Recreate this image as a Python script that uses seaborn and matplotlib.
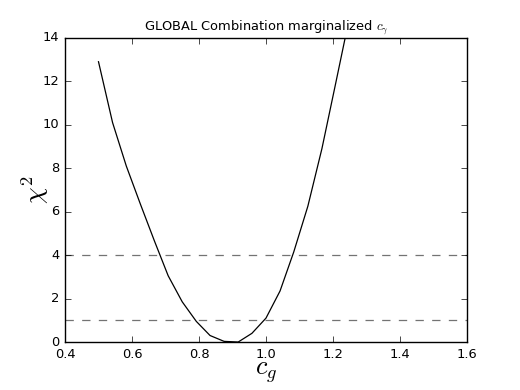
import seaborn as sns
import matplotlib.pyplot as plt
import pandas as pd

# marginalized chi2 scan in c_g
c_g = [0.500, 0.542, 0.583, 0.625, 0.667, 0.708, 0.750, 0.792, 0.833,
       0.875, 0.917, 0.958, 1.000, 1.042, 1.083, 1.125, 1.167, 1.208, 1.250]
chi2 = [12.9, 10.1, 8.1, 6.35, 4.65, 3.05, 1.85, 0.95, 0.3,
        0.03, 0.0, 0.4, 1.1, 2.35, 4.15, 6.25, 8.9, 11.9, 15.0]
levels = [1, 4]

df = pd.DataFrame({"c_g": c_g, "chi2": chi2})

plt.style.use("classic")
fig = plt.figure(figsize=(5.2, 3.9), dpi=100, facecolor="white")
ax = fig.add_axes([0.125, 0.123, 0.773, 0.780])

sns.lineplot(data=df, x="c_g", y="chi2", color="k", linewidth=0.9, ax=ax,
             sort=False, estimator=None)
for lv in levels:
    ax.axhline(lv, color="0.45", linestyle="--", linewidth=0.9)

ax.set_xlim(0.4, 1.6)
ax.set_ylim(0, 14)
ax.set_xticks([0.4, 0.6, 0.8, 1.0, 1.2, 1.4, 1.6])
ax.set_yticks(range(0, 15, 2))
ax.tick_params(labelsize=9.4)
ax.set_xlabel(r"$c_g$", fontsize=19, labelpad=-1)
ax.set_ylabel(r"$\chi^2$", fontsize=19, labelpad=-6)
ax.set_title(r"GLOBAL Combination marginalized $c_\gamma$", fontsize=9.4)

fig.savefig("out.png", dpi=100, facecolor="white")
